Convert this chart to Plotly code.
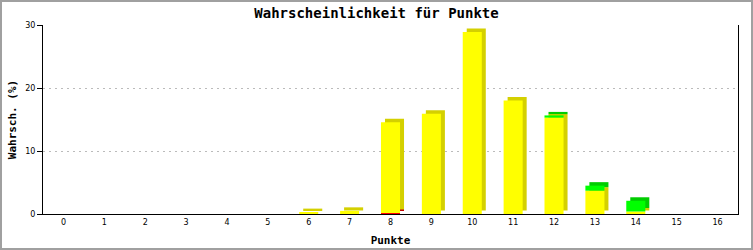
import plotly.graph_objects as go

categories = list(range(17))
tick_labels = [str(c) for c in categories]
red_vals = [0, 0, 0, 0, 0, 0, 0, 0, 0.15, 0, 0, 0, 0, 0, 0, 0, 0]
yellow_vals = [0, 0, 0, 0, 0, 0, 0.3, 0.5, 14.4, 15.9, 28.9, 18.0, 15.3, 3.7, 0.4, 0, 0]
green_vals = [0, 0, 0, 0, 0, 0, 0, 0, 0, 0, 0, 0, 0.35, 0.8, 1.7, 0, 0]

series = [
    ("rot", red_vals, "#FF0000", "#C00000"),
    ("gelb", yellow_vals, "#FFFF00", "#D4D000"),
    ("grün", green_vals, "#00FF00", "#00CC00"),
]

W, H = 753, 250
ML, MR, MT, MB = 43, 15, 25, 36
PW, PH = W - ML - MR, H - MT - MB
ymax = 30
bar_w = 0.466
dx = 4 / (PW / 17)
dy = 3.5 / (PH / ymax)

fig = go.Figure()
bases = []
cum = [0.0] * len(categories)
for name, vals, c, dc in series:
    bases.append(list(cum))
    cum = [a + b for a, b in zip(cum, vals)]

# shadows (depth)
for (name, vals, c, dc), base in zip(series, bases):
    fig.add_trace(go.Bar(
        x=categories, y=vals, base=[b + dy for b in base],
        width=bar_w, offset=-bar_w / 2 + dx,
        marker=dict(color=dc, line=dict(width=0)),
        showlegend=False, hoverinfo="skip"))
# front faces
for (name, vals, c, dc), base in zip(series, bases):
    fig.add_trace(go.Bar(
        x=categories, y=vals, base=base,
        width=bar_w, offset=-bar_w / 2,
        marker=dict(color=c, line=dict(width=0)),
        name=name, showlegend=False))

mono = "DejaVu Sans Mono"
fig.update_layout(
    width=W, height=H,
    margin=dict(l=ML, r=MR, t=MT, b=MB, autoexpand=False),
    barmode="overlay",
    paper_bgcolor="white", plot_bgcolor="white",
    title=dict(text="<b>Wahrscheinlichkeit für Punkte</b>",
               x=0.5, xanchor="center", y=1 - 13 / H, yanchor="middle",
               font=dict(family=mono, size=14, color="black")),
    xaxis=dict(range=[-0.5, 16.5], tickvals=categories, ticktext=tick_labels,
               showline=True, linecolor="black", linewidth=1, ticks="",
               showgrid=False, zeroline=False, automargin=False,
               tickfont=dict(family="DejaVu Sans", size=8, color="black"),
               title=dict(text="<b>Punkte</b>", standoff=10,
                          font=dict(family=mono, size=11, color="black"))),
    yaxis=dict(range=[0, ymax], dtick=10, showline=True, mirror=True,
               linecolor="black", linewidth=1, ticks="outside", ticklen=5,
               tickcolor="black", showgrid=True, gridcolor="#BBBBBB",
               griddash="2px,4px", zeroline=False, automargin=False,
               tickfont=dict(family="DejaVu Sans", size=8, color="black"),
               title=dict(text="<b>Wahrsch. (%)</b>", standoff=6,
                          font=dict(family=mono, size=11, color="black"))),
    shapes=[dict(type="rect", xref="paper", yref="paper",
                 x0=(1 - ML) / PW, x1=(W - 1 - ML) / PW,
                 y0=(1 - MB) / PH, y1=(PH + MT - 1) / PH,
                 line=dict(color="#A0A0A0", width=2), layer="above")],
)

fig.write_html("out.html")
